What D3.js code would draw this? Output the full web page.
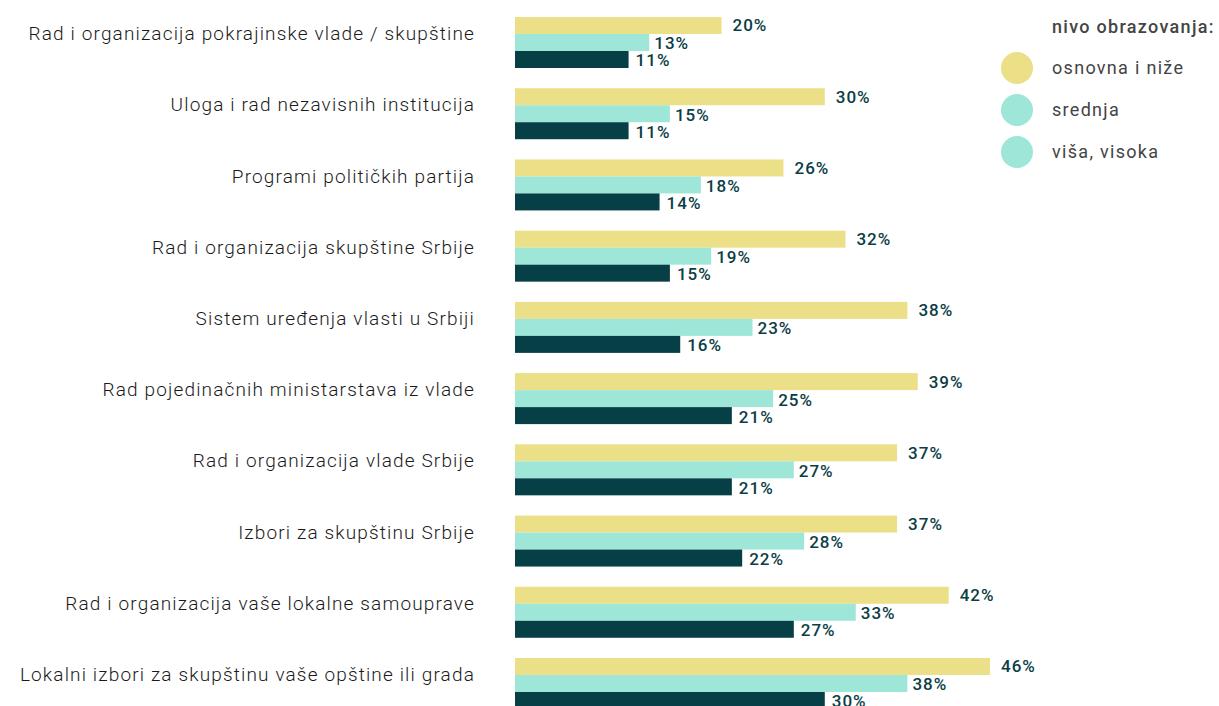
<!DOCTYPE html>
<html>
<head>
<meta charset="utf-8">
<script src="https://cdn.jsdelivr.net/npm/d3@7"></script>
<style>
  body { margin: 0; background: #fff; overflow: hidden; }
  text { font-family: "Roboto", "DejaVu Sans", sans-serif; }
</style>
</head>
<body>
<script>
const categories = [
    "Rad i organizacija pokrajinske vlade / skupštine",
    "Uloga i rad nezavisnih institucija",
    "Programi političkih partija",
    "Rad i organizacija skupštine Srbije",
    "Sistem uređenja vlasti u Srbiji",
    "Rad pojedinačnih ministarstava iz vlade",
    "Rad i organizacija vlade Srbije",
    "Izbori za skupštinu Srbije",
    "Rad i organizacija vaše lokalne samouprave",
    "Lokalni izbori za skupštinu vaše opštine ili grada"
];
const seriesNames = ["osnovna i niže", "srednja", "viša, visoka"];
const osnovna = [20, 30, 26, 32, 38, 39, 37, 37, 42, 46];
const srednja = [13, 15, 18, 19, 23, 25, 27, 28, 33, 38];
const visa = [11, 11, 14, 15, 16, 21, 21, 22, 27, 30];
const legendTitle = "nivo obrazovanja:";

const barColours = ["#ebdf88", "#9ee7d8", "#073f46"];
// legend in the original shows the light teal twice
const legendColours = ["#ebdf88", "#9ee7d8", "#9ee7d8"];
const labelGap = [11, 5, 7];

const width = 1219;
const height = 706;

const rows = categories.map((c, i) => ({
    cat: c,
    vals: [osnovna[i], srednja[i], visa[i]]
}));

const svg = d3.select('body')
    .append('svg')
        .attr('width', width)
        .attr('height', height);

const xScale = d3.scaleLinear()
    .domain([0, 46])
    .range([515, 990]);

const yScale = d3.scaleBand()
    .domain(categories)
    .range([17, 709])
    .paddingInner(0.284)
    .paddingOuter(0);

const ySub = d3.scaleBand()
    .domain([0, 1, 2])
    .range([0, yScale.bandwidth()]);

let groups = svg.selectAll('g.group')
    .data(rows)
    .enter()
        .append('g')
            .attr('class', 'group')
            .attr('transform', (d) => `translate(0, ${yScale(d.cat)})`);

// category labels
groups.append('text')
    .attr('x', 475)
    .attr('y', yScale.bandwidth() / 2 - 9)
    .attr('dy', '0.35em')
    .attr('text-anchor', 'end')
    .attr('fill', '#1a1a1a')
    .style('font-size', '19px')
    .style('font-weight', '300')
    .style('letter-spacing', '1.15px')
    .text((d) => d.cat);

// bars
groups.selectAll('rect')
    .data((d) => d.vals)
    .enter()
        .append('rect')
            .attr('x', xScale(0))
            .attr('y', (v, i) => ySub(i))
            .attr('width', (v) => xScale(v) - xScale(0))
            .attr('height', ySub.bandwidth())
            .attr('fill', (v, i) => barColours[i]);

// value labels
groups.selectAll('text.val')
    .data((d) => d.vals)
    .enter()
        .append('text')
            .attr('class', 'val')
            .attr('x', (v, i) => xScale(v) + labelGap[i])
            .attr('y', (v, i) => ySub(i) + ySub.bandwidth() / 2 + (i == 0 ? 0 : 1))
            .attr('dy', '0.35em')
            .attr('fill', '#0b3d45')
            .style('font-size', '17px')
            .style('font-weight', '500')
            .style('letter-spacing', '1px')
            .text((v) => v + '%');

// legend
let legend = svg.append('g');

legend.append('text')
    .attr('x', 1052)
    .attr('y', 27)
    .attr('dy', '0.35em')
    .attr('fill', '#444')
    .style('font-size', '18px')
    .style('font-weight', '500')
    .style('letter-spacing', '1.3px')
    .text(legendTitle);

let items = legend.selectAll('g.item')
    .data(seriesNames)
    .enter()
        .append('g')
            .attr('class', 'item')
            .attr('transform', (d, i) => `translate(0, ${68 + i * 42})`);

items.append('circle')
    .attr('cx', 1017)
    .attr('cy', 0)
    .attr('r', 16)
    .attr('fill', (d, i) => legendColours[i]);

items.append('text')
    .attr('x', 1052)
    .attr('y', 0)
    .attr('dy', '0.35em')
    .attr('fill', '#444')
    .style('font-size', '18px')
    .style('font-weight', '400')
    .style('letter-spacing', '1.3px')
    .text((d) => d);
</script>
</body>
</html>
